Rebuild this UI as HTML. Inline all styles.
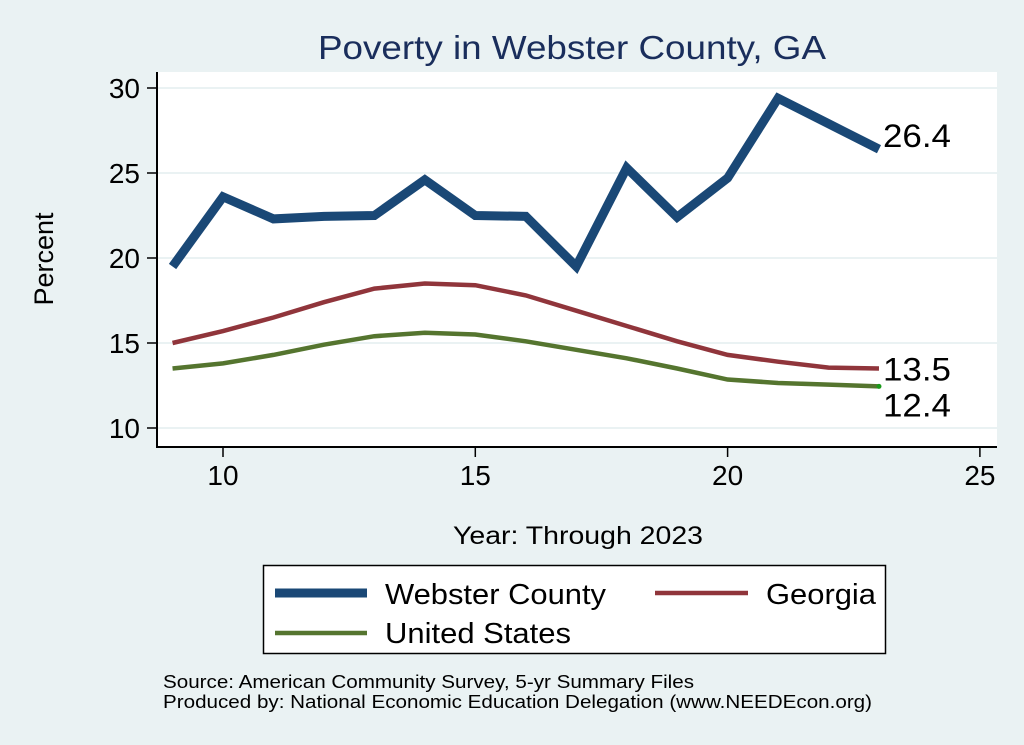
<!DOCTYPE html>
<html><head><meta charset="utf-8"><style>
body{margin:0;background:#eaf2f3;}
svg{display:block;font-family:"Liberation Sans",Arial,sans-serif;}
</style></head><body>
<svg id="chart" width="1024" height="745" viewBox="0 0 1024 745">
<rect x="0" y="0" width="1024" height="745" fill="#eaf2f3"/>
<rect x="157" y="72" width="840" height="375" fill="#ffffff"/>
<text x="318" y="59" font-size="33" fill="#1a2e5c" textLength="508" lengthAdjust="spacingAndGlyphs">Poverty in Webster County, GA</text>
<g id="grid"></g>
<g id="axes"></g>
<g id="series"></g>
<text x="53" y="259" text-anchor="middle" font-size="27" fill="#000" transform="rotate(-90 53 259)">Percent</text>
<text x="453" y="544" font-size="25" fill="#000" textLength="250" lengthAdjust="spacingAndGlyphs">Year: Through 2023</text>
<g>
<rect x="263.5" y="565.5" width="622" height="88" fill="#fff" stroke="#000" stroke-width="1.5"/>
<line x1="275" y1="593" x2="367" y2="593" stroke="#1a4876" stroke-width="9"/>
<text x="385" y="604" font-size="29" textLength="221" lengthAdjust="spacingAndGlyphs">Webster County</text>
<line x1="655" y1="593" x2="748" y2="593" stroke="#90353b" stroke-width="4.5"/>
<text x="766" y="604" font-size="29" textLength="110" lengthAdjust="spacingAndGlyphs">Georgia</text>
<line x1="275" y1="633" x2="367" y2="633" stroke="#55752f" stroke-width="4.5"/>
<text x="385" y="643" font-size="29" textLength="186" lengthAdjust="spacingAndGlyphs">United States</text>
</g>
<text x="163" y="688" font-size="18" textLength="531" lengthAdjust="spacingAndGlyphs">Source: American Community Survey, 5-yr Summary Files</text>
<text x="163" y="708" font-size="18" textLength="709" lengthAdjust="spacingAndGlyphs">Produced by: National Economic Education Delegation (www.NEEDEcon.org)</text>
</svg>
<script>
const years=[9,10,11,12,13,14,15,16,17,18,19,20,21,22,23];
const webster=[19.5,23.6,22.3,22.45,22.5,24.6,22.5,22.45,19.5,25.3,22.4,24.7,29.4,27.9,26.4];
const georgia=[15.0,15.7,16.5,17.4,18.2,18.5,18.4,17.8,16.9,16.0,15.1,14.3,13.9,13.55,13.5];
const us=[13.5,13.8,14.3,14.9,15.4,15.6,15.5,15.1,14.6,14.1,13.5,12.85,12.65,12.55,12.45];
const xTicks=[10,15,20,25];
const yTicks=[10,15,20,25,30];
const endLabels=["26.4","13.5","12.4"];
const NS="http://www.w3.org/2000/svg";
function sx(v){return 223+(v-10)*50.46;}
function sy(v){return 428-(v-10)*17;}
function mk(tag,attrs,parent){const e=document.createElementNS(NS,tag);for(const k in attrs)e.setAttribute(k,attrs[k]);parent.appendChild(e);return e;}
const grid=document.getElementById('grid'),axes=document.getElementById('axes'),series=document.getElementById('series');
yTicks.forEach(t=>{
  const g=mk('line',{x1:158,x2:997,y1:sy(t),y2:sy(t),stroke:'#eaf2f3','stroke-width':2},grid);
  
  
  const tk=mk('line',{x1:147,x2:157,y1:sy(t),y2:sy(t),stroke:'#000','stroke-width':1.5},axes);
  
  
  const tx=mk('text',{x:140,y:sy(t)+10,'text-anchor':'end','font-size':28},axes);
  tx.textContent=t;
  
  
});
xTicks.forEach(t=>{
  const tk=mk('line',{x1:sx(t),x2:sx(t),y1:447,y2:457,stroke:'#000','stroke-width':1.5},axes);
  
  
  const tx=mk('text',{x:sx(t),y:485,'text-anchor':'middle','font-size':28},axes);
  tx.textContent=t;
  
  
});
const ya=mk('line',{x1:157,x2:157,y1:72,y2:448,stroke:'#000','stroke-width':2},axes);


const xa=mk('line',{x1:156,x2:997,y1:447,y2:447,stroke:'#000','stroke-width':2},axes);


function line(vals,color,w,name){
  const p=mk('polyline',{points:vals.map((v,i)=>sx(years[i])+','+sy(v)).join(' '),fill:'none',stroke:color,'stroke-width':w,'stroke-linejoin':'miter'},series);
  
  
}
line(us,'#55752f',4.5,'line-united-states');
line(georgia,'#90353b',4.5,'line-georgia');
line(webster,'#1a4876',9,'line-webster-county');
const lx=sx(years[years.length-1]);
const dot=mk('circle',{cx:lx,cy:sy(us[us.length-1]),r:2.5,fill:'#1a9a1a'},series);


const labY=[sy(webster[webster.length-1])-2,sy(georgia[georgia.length-1])+12,sy(us[us.length-1])+30];
endLabels.forEach((l,i)=>{
  const t=mk('text',{x:lx+4,y:labY[i],'font-size':32,textLength:68,lengthAdjust:'spacingAndGlyphs'},series);
  t.textContent=l;
  
  
});
</script>
</body></html>
